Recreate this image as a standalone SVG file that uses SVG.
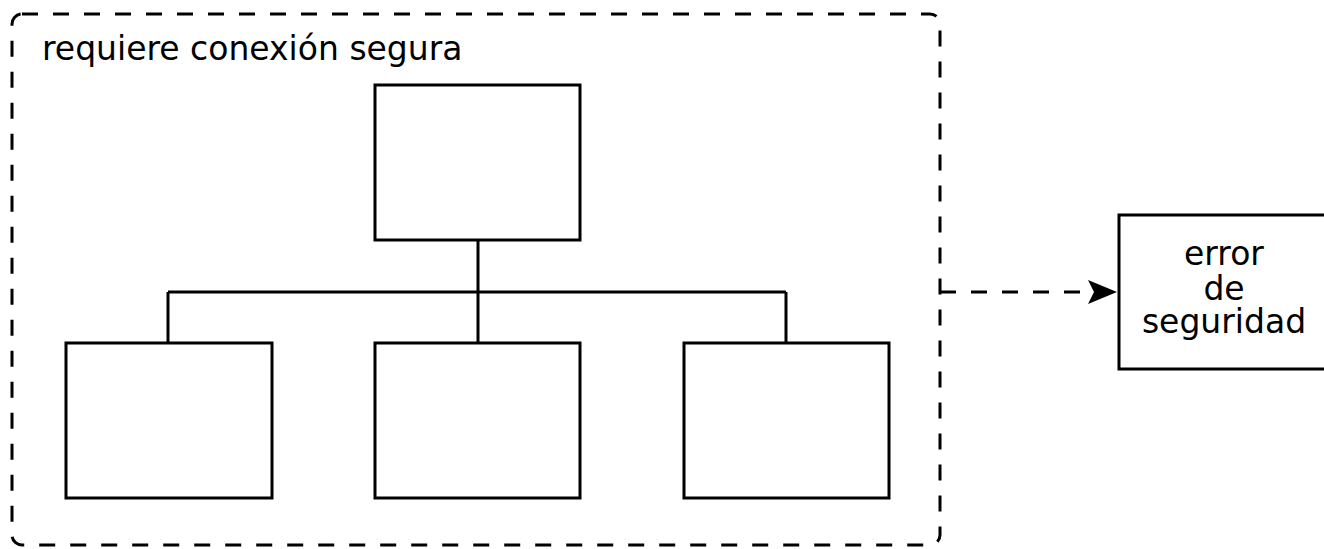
<svg xmlns="http://www.w3.org/2000/svg" width="1324" height="549" viewBox="0 0 1324 549">
<style>
.box{fill:#fff;stroke:#000;stroke-width:3}
.dash{fill:none;stroke:#000;stroke-width:3;stroke-dasharray:16 15}
.line{fill:none;stroke:#000;stroke-width:3}
text{font-family:"DejaVu Sans",sans-serif;font-size:33px;fill:#000}
</style>
<defs>
<marker id="arr" markerWidth="30" markerHeight="24" refX="29" refY="12" orient="auto" markerUnits="userSpaceOnUse" viewBox="0 0 30 24">
<path d="M0,0 L29,12 L0,24 L6,12 Z" fill="#000"/>
</marker>
</defs>
<g id="container">
<rect class="dash" x="12" y="14" width="928" height="531" rx="10" ry="10"/>
<text x="42" y="60">requiere conexión segura</text>
</g>
<g id="connectors">
<path class="line" d="M478,240 V343 M168,292 H786 M168,292 V343 M786,292 V343"/>
<path class="dash" d="M940,292 H1117" marker-end="url(#arr)"/>
</g>
<g id="top"><rect class="box" x="375" y="85" width="205" height="155"/></g>
<g id="child1"><rect class="box" x="66" y="343" width="206" height="155"/></g>
<g id="child2"><rect class="box" x="375" y="343" width="205" height="155"/></g>
<g id="child3"><rect class="box" x="684" y="343" width="205" height="155"/></g>
<g id="error">
<rect class="box" x="1119" y="215" width="210" height="154"/>
<text x="1224" y="265" text-anchor="middle">error</text>
<text x="1224" y="300" text-anchor="middle">de</text>
<text x="1224" y="333" text-anchor="middle">seguridad</text>
</g>
</svg>
